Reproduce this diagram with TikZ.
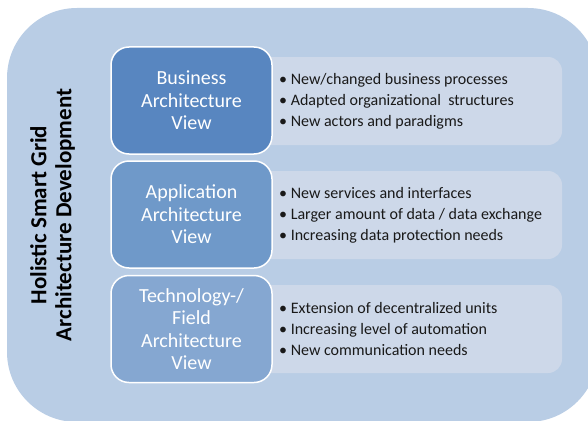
\documentclass[tikz,border=0pt]{standalone}
\usepackage{fontspec}
\setmainfont{Carlito}

\definecolor{framebg}{HTML}{B9CDE5}
\definecolor{notebg}{HTML}{CDD8E9}
\definecolor{bizblue}{HTML}{5886C0}
\definecolor{appblue}{HTML}{6F99C9}
\definecolor{techblue}{HTML}{85A7D1}

\begin{document}
\begin{tikzpicture}[x=1pt, y=-1pt,
  view/.style={draw=white, line width=1.5pt, rounded corners=18pt,
    minimum width=161pt, minimum height=107pt, text=white, align=center,
    font=\fontsize{20}{22.5}\selectfont},
  note/.style={fill=notebg, rounded corners=14pt, minimum width=312pt,
    minimum height=88pt},
  items/.style={anchor=west, inner sep=0pt, align=left, text=black!90,
    font=\fontsize{16}{21}\selectfont}]
\useasboundingbox (0,0) rectangle (588,420);
\clip (0,0) rectangle (588,420);
\fill[framebg, rounded corners=70pt] (7,8) rectangle (598,422);
\node[rotate=90, align=center, font=\bfseries\fontsize{23}{25}\selectfont] (title) at (52.5,215)
  {Holistic Smart Grid\\Architecture Development};
% notes behind the views
\node[note] (bnote) at (406,101) {};
\node[note] (anote) at (406,215) {};
\node[note] (tnote) at (406,329) {};
\node[view, fill=bizblue] (bav) at (191.5,100.5) {Business\\Architecture\\View};
\node[view, fill=appblue] (aav) at (191.5,214.5) {Application\\Architecture\\View};
\node[view, fill=techblue] (tav) at (191.5,329) {Technology-/\\Field\\Architecture\\View};
\node[items] (bitems) at (279,101) {• New/changed business processes\\
  • Adapted organizational~ structures\\• New actors and paradigms};
\node[items] (aitems) at (279,215) {• New services and interfaces\\
  • Larger amount of data / data exchange\\• Increasing data protection needs};
\node[items] (titems) at (279,329) {• Extension of decentralized units\\
  • Increasing level of automation\\• New communication needs};
\end{tikzpicture}
\end{document}
